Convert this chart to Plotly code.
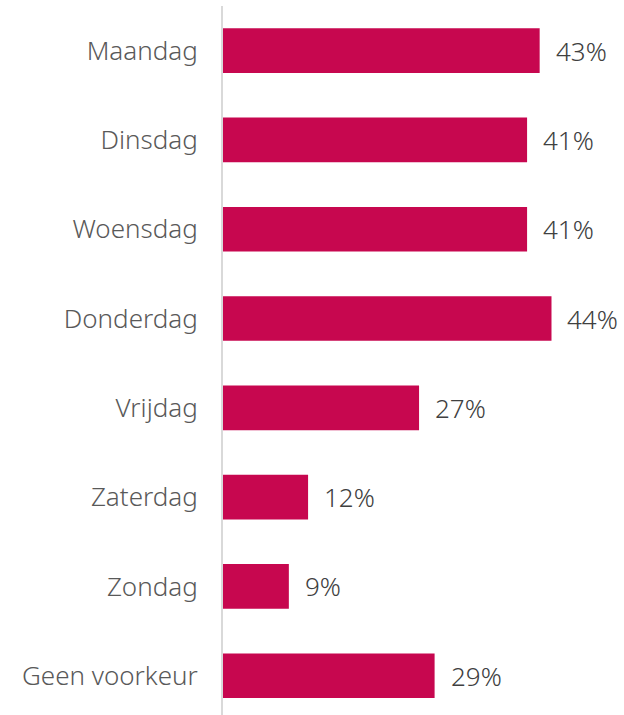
import plotly.graph_objects as go

categories = ["Maandag", "Dinsdag", "Woensdag", "Donderdag", "Vrijdag", "Zaterdag", "Zondag", "Geen voorkeur"]
values = [42.8, 41.1, 41.1, 44.4, 26.5, 11.5, 8.9, 28.6]
labels = ["43%", "41%", "41%", "44%", "27%", "12%", "9%", "29%"]

CAT_FONT = dict(family="Noto Sans", size=26, color="#595959", weight=300)
VAL_FONT = dict(family="Noto Sans", size=26, color="#404040", weight=300)

fig = go.Figure()
fig.add_trace(go.Bar(
    y=categories, x=values, orientation="h",
    marker=dict(color="#C7074F", line=dict(width=0)),
    hoverinfo="skip",
))
for c, v, t in zip(categories, values, labels):
    fig.add_annotation(x=v, y=c, text=t, showarrow=False, xanchor="left",
                       xshift=14, font=VAL_FONT)

fig.update_layout(
    width=624, height=715,
    margin=dict(l=223, r=0, t=6, b=0, autoexpand=False),
    paper_bgcolor="white", plot_bgcolor="white",
    bargap=0.5, showlegend=False,
    xaxis=dict(range=[0, 54.2], visible=False, fixedrange=True, automargin=False),
    yaxis=dict(autorange=False, range=[7.44, -0.5], showline=True, linecolor="#D9D9D9",
               linewidth=2, showgrid=False, zeroline=False, ticks="",
               ticklabelstandoff=18, automargin=False,
               tickfont=CAT_FONT),
)
fig.write_html("out.html", config={"displayModeBar": False},
               post_script="document.body.style.margin='0';document.body.style.overflow='hidden';")
